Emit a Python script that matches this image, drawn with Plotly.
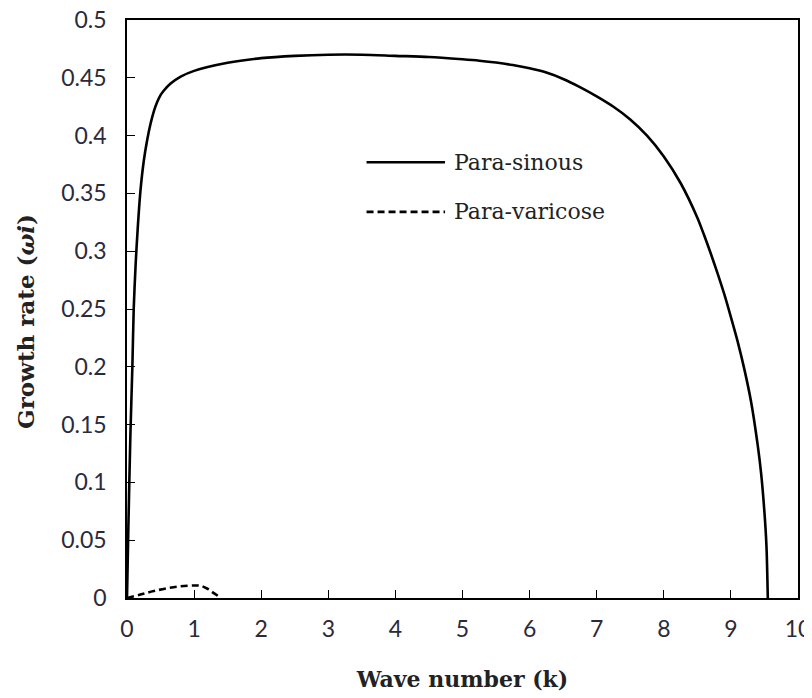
import plotly.graph_objects as go

# Para-sinous growth rate
k_sin = [0, 0.02, 0.05, 0.08, 0.1, 0.13, 0.16, 0.2, 0.25, 0.3, 0.35, 0.4, 0.45, 0.5, 0.55, 0.65, 0.8,
         1.0, 1.5, 2.0, 2.5, 3.0, 3.5, 4.0, 4.5, 5.0, 5.25, 5.5, 5.75, 6.0, 6.25, 6.5, 6.75, 7.0, 7.25,
         7.5, 7.75, 8.0, 8.25, 8.5, 8.6, 8.7, 8.8, 8.9, 9.0, 9.1, 9.2, 9.3, 9.4, 9.45, 9.5, 9.53, 9.55]
w_sin = [0, 0.06, 0.14, 0.2, 0.25, 0.29, 0.32, 0.352, 0.378, 0.396, 0.41, 0.421, 0.429, 0.435, 0.439,
         0.445, 0.451, 0.456, 0.463, 0.467, 0.469, 0.470, 0.470, 0.469, 0.468, 0.466, 0.4648, 0.4632,
         0.4610, 0.4582, 0.4545, 0.449, 0.442, 0.434, 0.425, 0.414, 0.400, 0.382, 0.359, 0.329,
         0.314, 0.298, 0.281, 0.263, 0.243, 0.222, 0.198, 0.170, 0.132, 0.108, 0.074, 0.045, 0]

# Para-varicose growth rate
k_var = [0, 0.2, 0.4, 0.6, 0.8, 1.0, 1.1, 1.2, 1.3, 1.4]
w_var = [0, 0.003, 0.006, 0.0085, 0.0102, 0.0108, 0.0105, 0.008, 0.004, 0]

x_ticks = [0, 1, 2, 3, 4, 5, 6, 7, 8, 9, 10]
y_ticks = [0, 0.05, 0.1, 0.15, 0.2, 0.25, 0.3, 0.35, 0.4, 0.45, 0.5]
y_labels = ["0", "0.05", "0.1", "0.15", "0.2", "0.25", "0.3", "0.35", "0.4", "0.45", "0.5"]

names = ["Para-sinous", "Para-varicose"]

fig = go.Figure()
fig.add_trace(go.Scatter(x=k_sin, y=w_sin, mode="lines", name=names[0],
                         line=dict(color="black", width=2.6, shape="spline", smoothing=0.8),
                         showlegend=False))
fig.add_trace(go.Scatter(x=k_var, y=w_var, mode="lines", name=names[1],
                         line=dict(color="black", width=2.6, dash="7px,4px", shape="spline"),
                         showlegend=False))

# manual legend
legend_items = [(names[0], "solid", 0.754), (names[1], "7px,4px", 0.668)]
for name, dash, yp in legend_items:
    fig.add_shape(type="line", xref="paper", yref="paper", x0=0.357, x1=0.474, y0=yp, y1=yp,
                  line=dict(color="black", width=2.6, dash=dash))
    fig.add_annotation(xref="paper", yref="paper", x=0.484, y=yp, text=name, showarrow=False,
                       xanchor="left", yanchor="middle",
                       font=dict(family="DejaVu Serif", size=22, color="#222"))

# y-axis title
fig.add_annotation(xref="paper", yref="paper", x=-0.152, y=0.4775, textangle=-90,
                   text="<b>Growth rate (<i>ωi</i>)</b>", showarrow=False,
                   xanchor="center", yanchor="middle",
                   font=dict(family="DejaVu Serif", size=23, color="#222"))

axis_common = dict(showline=True, linecolor="black", linewidth=1.5, mirror=True,
                   ticks="inside", ticklen=8, tickcolor="black", tickwidth=1.2,
                   showgrid=False, zeroline=False, automargin=False,
                   ticklabeloverflow="allow",
                   tickfont=dict(family="Lato", size=23, color="#2a2a3a"))

fig.update_xaxes(range=[0, 10], tickvals=x_ticks, ticklabelstandoff=10,
                 title=dict(text="<b>Wave number (k)</b>", standoff=30,
                            font=dict(family="DejaVu Serif", size=22, color="#222")),
                 **axis_common)
fig.update_yaxes(range=[0, 0.5], tickvals=y_ticks, ticktext=y_labels, ticklabelstandoff=14,
                 **axis_common)

# page body has an 8px margin; compensate so the plot area lands at x 127-798, y 20-598
fig.update_layout(width=804, height=690, plot_bgcolor="white", paper_bgcolor="white",
                  margin=dict(l=119, r=14, t=12, b=100))

fig.write_html("out.html")
